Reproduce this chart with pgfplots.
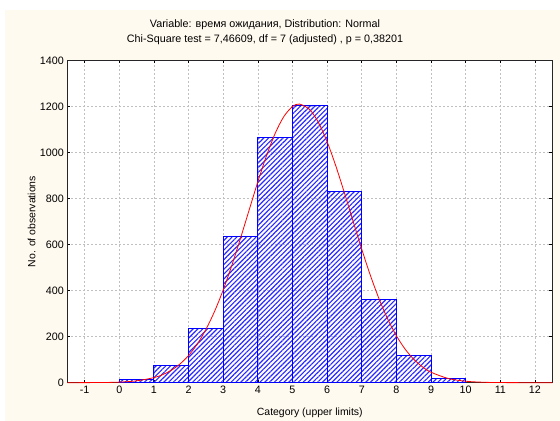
\documentclass[border=0pt]{standalone}
\usepackage{fontspec}
\setmainfont{Liberation Sans}
\usepackage{pgfplots}
\pgfplotsset{compat=1.18}
\usetikzlibrary{patterns.meta}
\definecolor{panel}{RGB}{255,250,239}
\definecolor{gridgray}{RGB}{192,192,192}
\definecolor{hatch}{RGB}{40,40,255}

\begin{document}
\begin{tikzpicture}
% page and cream panel, measured from the lower left corner of the plot box
\path[use as bounding box] (-67.3bp,-38.3bp) rectangle (492.7bp,382.7bp);
\fill[panel] (-62.3bp,-38.3bp) rectangle (492.7bp,372.7bp);
\begin{axis}[
    scale only axis,
    width=485bp, height=322.4bp,
    xmin=-1.5, xmax=12.5, ymin=0, ymax=1400,
    xtick={-1,0,...,12}, ytick={0,200,...,1400},
    clip=false,
    grid=major,
    major grid style={gridgray, dash pattern=on 2bp off 2bp, line width=0.6bp},
    axis background/.style={fill=white},
    tick align=inside,
    major tick length=3bp,
    tick style={black, line width=0.6bp},
    axis line style={black!85, line width=0.8bp},
    font=\fontsize{10.5}{12}\selectfont,
    tick label style={font=\fontsize{10.8}{12}\selectfont},
    /pgf/number format/assume math mode=true,
    /pgf/number format/set thousands separator={},
    xlabel={Category (upper limits)},
    ylabel={No. of observations},
    xlabel style={at={(axis description cs:0.5,-0.093)}, anchor=center},
    ylabel style={at={(axis description cs:-0.0734,0.5)}, anchor=center},
]
% observed frequencies, bins (k-1,k]
\addplot[ybar interval, draw=blue, line width=1bp,
    pattern={Lines[angle=45,distance=3.4bp,line width=1.15bp]}, pattern color=hatch]
    coordinates {
    (0,16) (1,75) (2,237) (3,633) (4,1066) (5,1202) (6,830) (7,363) (8,116) (9,19) (10,0)
    };
% fitted normal curve
\addplot[red, line width=0.8bp, smooth] coordinates {
    (-1.5,0) (-0.5,0.8) (0,2.6) (0.5,8.0) (1,22.0) (1.25,34.9) (1.5,53.9) (1.75,80.9)
    (2,118.0) (2.25,167.4) (2.5,230.9) (2.75,309.3) (3,402.8) (3.25,509.9) (3.5,627.4)
    (3.75,750.3) (4,872.3) (4.25,985.7) (4.5,1082.5) (4.75,1155.6) (5,1199.0) (5.2,1210)
    (5.5,1185.5) (5.75,1129.7) (6,1046.2) (6.25,941.7) (6.5,824.1) (6.75,701.0) (7,579.4)
    (7.25,465.6) (7.5,363.6) (7.75,276.1) (8,203.7) (8.25,146.1) (8.5,101.8) (8.75,69.0)
    (9,45.4) (9.5,18.1) (10,6.4) (10.5,2.0) (11,0.6) (12,0) (12.5,0)
    };
\end{axis}
\node[font=\fontsize{10.8}{12}\selectfont] at (197.7bp,357.7bp) {Variable: время ожидания, Distribution: Normal};
\node[font=\fontsize{10.8}{12}\selectfont] at (197.7bp,342.7bp) {Chi-Square test = 7,46609, df = 7 (adjusted) , p = 0,38201};
\end{tikzpicture}
\end{document}
